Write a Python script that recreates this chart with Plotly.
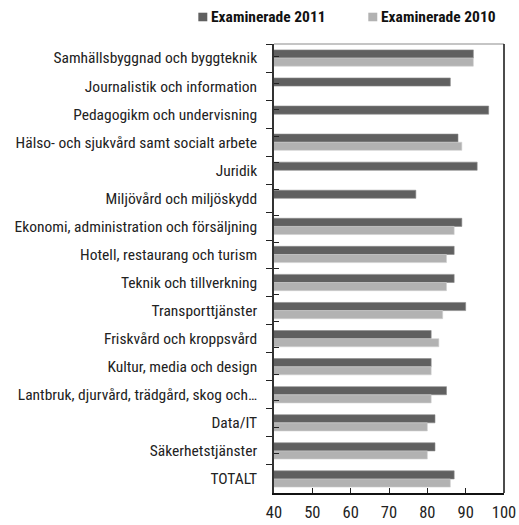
import plotly.graph_objects as go

categories = [
    "Samhällsbyggnad och byggteknik",
    "Journalistik och information",
    "Pedagogikm och undervisning",
    "Hälso- och sjukvård samt socialt arbete",
    "Juridik",
    "Miljövård och miljöskydd",
    "Ekonomi, administration och försäljning",
    "Hotell, restaurang och turism",
    "Teknik och tillverkning",
    "Transporttjänster",
    "Friskvård och kroppsvård",
    "Kultur, media och design",
    "Lantbruk, djurvård, trädgård, skog och…",
    "Data/IT",
    "Säkerhetstjänster",
    "TOTALT",
]
examinerade_2011 = [92, 86, 96, 88, 93, 77, 89, 87, 87, 90, 81, 81, 85, 82, 82, 87]
examinerade_2010 = [92, None, None, 89, None, None, 87, 85, 85, 84, 83, 81, 81, 80, 80, 86]
series_names = ["Examinerade 2011", "Examinerade 2010"]
x_ticks = [40, 50, 60, 70, 80, 90, 100]

FONT = "Roboto Condensed, Archivo Narrow, DejaVu Sans Condensed, sans-serif"
DARK = "#606060"
LIGHT = "#b2b2b2"

fig = go.Figure()
fig.add_trace(go.Bar(
    y=categories, x=examinerade_2011, orientation="h", name=series_names[0],
    marker=dict(color=DARK, line=dict(color="#8a8a8a", width=0.6)),
))
fig.add_trace(go.Bar(
    y=categories, x=examinerade_2010, orientation="h", name=series_names[1],
    marker=dict(color=LIGHT, line=dict(color="#d0d0d0", width=0.6)),
))
# invisible companion trace so the overlay axis draws its inner tick marks
fig.add_trace(go.Scatter(
    y=categories, x=[None] * len(categories), yaxis="y2", mode="markers",
    showlegend=False, hoverinfo="skip",
))

# hand-built legend above the plot: small squares followed by bold labels
legend_items = [(series_names[0], DARK, -0.329), (series_names[1], LIGHT, 0.410)]
shapes = [
    dict(type="line", xref="paper", yref="paper", x0=0, x1=1, y0=1, y1=1,
         line=dict(color="#8c8c8c", width=1.2)),
    dict(type="line", xref="paper", yref="paper", x0=1, x1=1, y0=0, y1=1,
         line=dict(color="#111111", width=1.5)),
]
annotations = []
for name, color, x0 in legend_items:
    shapes.append(dict(type="rect", xref="paper", yref="paper",
                       x0=x0, x1=x0 + 0.039, y0=1.0506, y1=1.0697,
                       fillcolor=color, line=dict(width=0)))
    annotations.append(dict(text=name, xref="paper", yref="paper",
                            x=x0 + 0.0455, y=1.0601, xanchor="left", yanchor="middle",
                            showarrow=False,
                            font=dict(family=FONT, size=15.5, color="#111111", weight="bold")))

fig.update_layout(
    width=519, height=525,
    margin=dict(l=274, r=15, t=44, b=32),
    paper_bgcolor="white", plot_bgcolor="white",
    barmode="group", bargap=0.42, bargroupgap=0.0,
    showlegend=False,
    font=dict(family=FONT, size=15.5, color="#222222"),
    xaxis=dict(
        range=[40, 100], tickvals=x_ticks, ticks="inside", ticklen=5,
        tickcolor="#222", showline=True, linecolor="#111", linewidth=1.5,
        showgrid=False, zeroline=False, tickfont=dict(size=16.5, color="#222"),
        ticklabelstandoff=3, automargin=False, fixedrange=True,
    ),
    yaxis=dict(
        autorange="reversed", type="category", ticks="outside", ticklen=6,
        tickson="boundaries", tickcolor="#222", showline=True, linecolor="#333",
        linewidth=1.5, showgrid=False, ticklabelstandoff=12, automargin=False,
        tickfont=dict(size=15.5, color="#222"),
    ),
    yaxis2=dict(
        overlaying="y", side="left", autorange="reversed", type="category",
        categoryorder="array", categoryarray=categories,
        ticks="inside", ticklen=5, tickson="boundaries", tickcolor="#222",
        showticklabels=False, showgrid=False, showline=False, automargin=False,
    ),
    shapes=shapes,
    annotations=annotations,
)

fig.write_html("out.html")
